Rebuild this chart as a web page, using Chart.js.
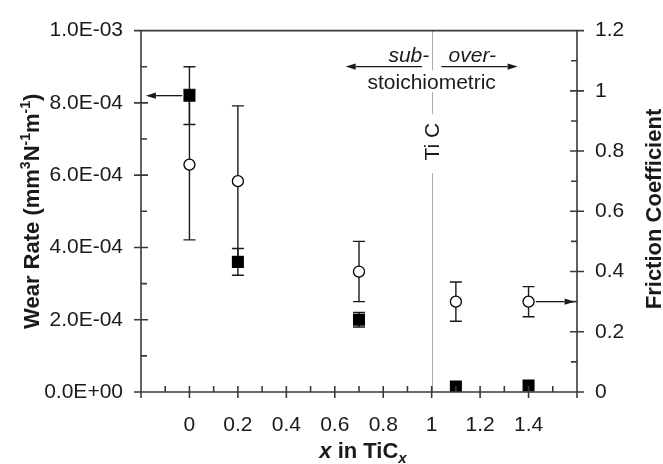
<!DOCTYPE html>
<html>
<head>
<meta charset="utf-8">
<script src="https://cdn.jsdelivr.net/npm/chart.js@4.4.0/dist/chart.umd.min.js"></script>
<style>
  html, body { margin: 0; padding: 0; background: #fff; }
  #wrap { width: 663px; height: 464px; }
</style>
</head>
<body>
<div id="wrap"><canvas id="myChart" width="663" height="464"></canvas></div>
<script>
// data
const xValues = [0, 0.2, 0.7, 1.1, 1.4];
const wearRate = [8.2e-4, 3.6e-4, 2.0e-4, 1.5e-5, 1.8e-5];
const wearErr = [0.8e-4, 0.37e-4, 0.2e-4, 0, 0];
const friction = [0.755, 0.70, 0.40, 0.30, 0.30];
const frictionErr = [0.25, 0.25, 0.10, 0.065, 0.05];

// axis ticks
const xTicks = [-0.2, 0, 0.2, 0.4, 0.6, 0.8, 1, 1.2, 1.4, 1.6];
const xLabels = ['', '0', '0.2', '0.4', '0.6', '0.8', '1', '1.2', '1.4', ''];
const xMinor = [-0.1, 0.1, 0.3, 0.5, 0.7, 0.9, 1.1, 1.3, 1.5];
const wearTicks = [0, 2e-4, 4e-4, 6e-4, 8e-4, 1e-3];
const wearLabels = ['0.0E+00', '2.0E-04', '4.0E-04', '6.0E-04', '8.0E-04', '1.0E-03'];
const wearMinor = [1e-4, 3e-4, 5e-4, 7e-4, 9e-4];
const frictionTicks = [0, 0.2, 0.4, 0.6, 0.8, 1, 1.2];
const frictionLabels = ['0', '0.2', '0.4', '0.6', '0.8', '1', '1.2'];
const frictionMinor = [0.1, 0.3, 0.5, 0.7, 0.9, 1.1];

const INK = '#1a1a1a';
const AXIS = '#3a3a3a';
const FONT = "'Liberation Sans', Arial, Helvetica, sans-serif";

const drawArrow = (ctx, x1, y1, x2, y2) => {
  const ang = Math.atan2(y2 - y1, x2 - x1);
  const len = 10, hw = 3.2;
  ctx.beginPath();
  ctx.moveTo(x1, y1);
  ctx.lineTo(x2 - len * Math.cos(ang), y2 - len * Math.sin(ang));
  ctx.stroke();
  ctx.beginPath();
  ctx.moveTo(x2, y2);
  ctx.lineTo(x2 - len * Math.cos(ang) - hw * Math.sin(ang), y2 - len * Math.sin(ang) + hw * Math.cos(ang));
  ctx.lineTo(x2 - len * Math.cos(ang) + hw * Math.sin(ang), y2 - len * Math.sin(ang) - hw * Math.cos(ang));
  ctx.closePath();
  ctx.fill();
};

// draws a run of text pieces (for super/subscripts) centred on cx
const drawRich = (ctx, parts, cx, cy, angle) => {
  ctx.save();
  ctx.translate(cx, cy);
  ctx.rotate(angle);
  ctx.textBaseline = 'alphabetic';
  ctx.textAlign = 'left';
  let total = 0;
  parts.forEach(p => { ctx.font = p.font; p.w = ctx.measureText(p.t).width; total += p.w; });
  let x = -total / 2;
  parts.forEach(p => {
    ctx.font = p.font;
    ctx.fillText(p.t, x, p.dy || 0);
    x += p.w;
  });
  ctx.restore();
};

const errorBars = {
  id: 'errorBars',
  beforeDatasetsDraw(chart) {
    const { ctx, chartArea: a, scales: { x, y, y1 } } = chart;
    ctx.save();
    // TiC dotted line at x = 1
    const px = Math.round(x.getPixelForValue(1)) + 0.5;
    ctx.strokeStyle = '#555';
    ctx.lineWidth = 1;
    ctx.setLineDash([1, 1]);
    ctx.beginPath();
    ctx.moveTo(px, a.top); ctx.lineTo(px, a.top + 40);
    ctx.moveTo(px, a.top + 62); ctx.lineTo(px, a.top + 84);
    ctx.moveTo(px, a.top + 143); ctx.lineTo(px, a.bottom);
    ctx.stroke();
    ctx.setLineDash([]);

    ctx.strokeStyle = INK;
    ctx.lineWidth = 1.4;
    const cap = 6;
    const bar = (cx, top, bot) => {
      ctx.beginPath();
      ctx.moveTo(cx, top); ctx.lineTo(cx, bot);
      ctx.moveTo(cx - cap, top); ctx.lineTo(cx + cap, top);
      ctx.moveTo(cx - cap, bot); ctx.lineTo(cx + cap, bot);
      ctx.stroke();
    };
    xValues.forEach((v, i) => {
      const cx = x.getPixelForValue(v);
      if (frictionErr[i] > 0) {
        bar(cx, y1.getPixelForValue(friction[i] + frictionErr[i]), y1.getPixelForValue(friction[i] - frictionErr[i]));
      }
      if (wearErr[i] > 0) {
        bar(cx, y.getPixelForValue(wearRate[i] + wearErr[i]), y.getPixelForValue(wearRate[i] - wearErr[i]));
      }
    });
    ctx.restore();
  },
  afterDraw(chart) {
    const { ctx, chartArea: a, scales: { x, y, y1 } } = chart;
    ctx.save();
    ctx.strokeStyle = AXIS;
    ctx.lineWidth = 1.6;
    // frame
    ctx.beginPath();
    ctx.moveTo(a.left, a.top); ctx.lineTo(a.right, a.top);
    ctx.moveTo(a.left, a.top); ctx.lineTo(a.left, a.bottom);
    ctx.moveTo(a.right, a.top); ctx.lineTo(a.right, a.bottom);
    ctx.moveTo(a.left - 3, a.bottom); ctx.lineTo(a.right + 3, a.bottom);
    // ticks
    wearTicks.forEach(v => { const p = y.getPixelForValue(v); ctx.moveTo(a.left - 7, p); ctx.lineTo(a.left + 7, p); });
    wearMinor.forEach(v => { const p = y.getPixelForValue(v); ctx.moveTo(a.left, p); ctx.lineTo(a.left + 6, p); });
    frictionTicks.forEach(v => { const p = y1.getPixelForValue(v); ctx.moveTo(a.right - 7, p); ctx.lineTo(a.right + 7, p); });
    frictionMinor.forEach(v => { const p = y1.getPixelForValue(v); ctx.moveTo(a.right - 6, p); ctx.lineTo(a.right, p); });
    xTicks.forEach(v => { const p = x.getPixelForValue(v); ctx.moveTo(p, a.bottom - 6); ctx.lineTo(p, a.bottom + 6); });
    xMinor.forEach(v => { const p = x.getPixelForValue(v); ctx.moveTo(p, a.bottom - 6); ctx.lineTo(p, a.bottom); });
    ctx.stroke();

    // pointer arrows to the axes
    ctx.strokeStyle = INK;
    ctx.fillStyle = INK;
    ctx.lineWidth = 1.3;
    const wy = y.getPixelForValue(wearRate[0]);
    drawArrow(ctx, x.getPixelForValue(-0.03), wy, x.getPixelForValue(-0.18), wy);
    const fy = y1.getPixelForValue(friction[4]);
    drawArrow(ctx, x.getPixelForValue(1.43), fy, x.getPixelForValue(1.59), fy);

    // sub- / over- stoichiometric annotation
    const ay = a.top + 36;
    drawArrow(ctx, x.getPixelForValue(0.96), ay, x.getPixelForValue(0.645), ay);
    drawArrow(ctx, x.getPixelForValue(1.04), ay, x.getPixelForValue(1.355), ay);
    ctx.font = 'italic 21px ' + FONT;
    ctx.textBaseline = 'alphabetic';
    ctx.textAlign = 'right';
    ctx.fillText('sub-', x.getPixelForValue(0.99), a.top + 31);
    ctx.textAlign = 'left';
    ctx.fillText('over-', x.getPixelForValue(1.07), a.top + 31);
    ctx.font = '21px ' + FONT;
    ctx.textAlign = 'center';
    ctx.fillText('stoichiometric', x.getPixelForValue(1), a.top + 58);
    ctx.save();
    ctx.translate(x.getPixelForValue(1) + 7, a.top + 111);
    ctx.rotate(-Math.PI / 2);
    ctx.fillText('Ti C', 0, 0);
    ctx.restore();

    // axis titles
    const bold = 'bold 22px ' + FONT;
    const boldSup = 'bold 14px ' + FONT;
    drawRich(ctx, [
      { t: 'Wear Rate (mm', font: bold },
      { t: '3', font: boldSup, dy: -9 },
      { t: 'N', font: bold },
      { t: '-1', font: boldSup, dy: -9 },
      { t: 'm', font: bold },
      { t: '-1', font: boldSup, dy: -9 },
      { t: ')', font: bold }
    ], 39, (a.top + a.bottom) / 2, -Math.PI / 2);
    drawRich(ctx, [{ t: 'Friction Coefficient', font: bold }], 661, 209, -Math.PI / 2);
    drawRich(ctx, [
      { t: 'x', font: 'italic bold 22px ' + FONT },
      { t: ' in TiC', font: bold },
      { t: 'x', font: 'italic bold 15px ' + FONT, dy: 5 }
    ], (a.left + a.right) / 2 + 4, 458, 0);
    ctx.restore();
  }
};

const ctx = document.getElementById('myChart');
new Chart(ctx, {
  type: 'scatter',
  data: {
    datasets: [
      {
        label: 'Wear Rate',
        data: xValues.map((v, i) => ({ x: v, y: wearRate[i] })),
        yAxisID: 'y',
        pointStyle: 'rect',
        pointRadius: 8.5,
        backgroundColor: '#000',
        borderColor: '#000',
        borderWidth: 0
      },
      {
        label: 'Friction Coefficient',
        data: xValues.map((v, i) => ({ x: v, y: friction[i] })),
        yAxisID: 'y1',
        pointStyle: 'circle',
        pointRadius: 5.5,
        backgroundColor: '#fff',
        borderColor: '#000',
        borderWidth: 1.3
      }
    ]
  },
  options: {
    responsive: false,
    animation: false,
    layout: { padding: { top: 20, left: 0, right: 0, bottom: 0 } },
    plugins: { legend: { display: false }, tooltip: { enabled: false } },
    scales: {
      x: {
        type: 'linear',
        min: -0.2,
        max: 1.6,
        afterBuildTicks: s => { s.ticks = xTicks.map(v => ({ value: v })); },
        afterFit: s => { s.height = 72; },
        grid: { display: false, drawTicks: false },
        border: { display: false },
        ticks: {
          autoSkip: false,
          maxRotation: 0,
          padding: 21,
          color: INK,
          font: { family: FONT, size: 21 },
          callback: (v, i) => xLabels[i]
        }
      },
      y: {
        position: 'left',
        min: 0,
        max: 1e-3,
        afterBuildTicks: s => { s.ticks = wearTicks.map(v => ({ value: v })); },
        afterFit: s => { s.width = 141; },
        grid: { display: false, drawTicks: false },
        border: { display: false },
        ticks: {
          autoSkip: false,
          padding: 18,
          color: INK,
          font: { family: FONT, size: 21 },
          callback: (v, i) => wearLabels[i]
        }
      },
      y1: {
        position: 'right',
        min: 0,
        max: 1.2,
        afterBuildTicks: s => { s.ticks = frictionTicks.map(v => ({ value: v })); },
        afterFit: s => { s.width = 86; },
        grid: { display: false, drawTicks: false },
        border: { display: false },
        ticks: {
          autoSkip: false,
          padding: 18,
          color: INK,
          font: { family: FONT, size: 21 },
          callback: (v, i) => frictionLabels[i]
        }
      }
    }
  },
  plugins: [errorBars]
});
</script>
</body>
</html>
